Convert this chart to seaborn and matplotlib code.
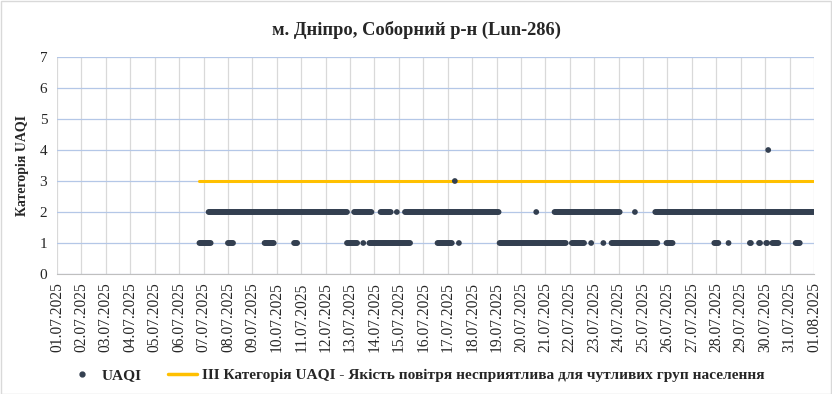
import numpy as np
import pandas as pd
import matplotlib
matplotlib.use('Agg')
import matplotlib.pyplot as plt
import matplotlib.dates as mdates
from matplotlib.lines import Line2D
from matplotlib.patches import Rectangle
import seaborn as sns

sns.set_style('white')
plt.rcParams['font.family'] = ['Liberation Serif', 'DejaVu Serif']

start = pd.Timestamp('2025-07-01 00:00')

# UAQI runs: first / last hour since 01.07.2025 00:00, category
run_first = [149, 292, 318, 334, 342, 471, 489, 568, 588,
             140, 168, 204, 233, 285, 301, 307, 374, 395, 435, 506, 525,
             537, 545, 599, 646, 660, 681, 690, 697, 703, 726,
             391, 699]
run_last = [285, 309, 328, 334, 434, 471, 553, 568, 744,
            151, 173, 213, 236, 295, 301, 347, 388, 395, 500, 518, 525,
            537, 590, 605, 650, 660, 682, 691, 698, 709, 730,
            391, 699]
run_level = [2, 2, 2, 2, 2, 2, 2, 2, 2,
             1, 1, 1, 1, 1, 1, 1, 1, 1, 1, 1, 1,
             1, 1, 1, 1, 1, 1, 1, 1, 1, 1,
             3, 4]

# category III threshold line
limit_hours = [140, 744]
limit_level = [3, 3]

days = pd.date_range('2025-07-01', '2025-08-01', freq='D')

rows = []
for a, b, lv in zip(run_first, run_last, run_level):
    for h in range(a, b + 1):
        rows.append((start + pd.Timedelta(hours=h), lv))
df = pd.DataFrame(rows, columns=['time', 'UAQI'])

lim = pd.DataFrame({'time': [start + pd.Timedelta(hours=h) for h in limit_hours],
                    'UAQI': limit_level})

dot_col = '#333F50'
line_col = '#FFC000'

fig = plt.figure(figsize=(8.32, 3.94), dpi=100)
ax = fig.add_axes([57 / 832, 1 - 274 / 394, (814 - 57) / 832, (274 - 57) / 394])

sns.lineplot(data=lim, x='time', y='UAQI', ax=ax, color=line_col, linewidth=2.2, zorder=2)
sns.scatterplot(data=df, x='time', y='UAQI', ax=ax, color=dot_col, s=17,
                edgecolor='none', zorder=3)

ax.set_xlim(days[0], days[-1])
ax.set_ylim(0, 7)
ax.set_yticks(range(0, 8))
ax.xaxis.set_major_locator(mdates.DayLocator())
ax.xaxis.set_major_formatter(mdates.DateFormatter('%d.%m.%Y'))
ax.tick_params(axis='x', rotation=90, labelsize=11.2, length=0, pad=6)
ax.tick_params(axis='y', labelsize=11, length=0, pad=7)

ax.grid(axis='y', color='#B4C7E7', linewidth=0.9)
ax.grid(axis='x', color='#D9D9D9', linewidth=0.9)
ax.set_axisbelow(True)
for side in ['top', 'right', 'left']:
    ax.spines[side].set_visible(False)
ax.spines['bottom'].set_color('#BFBFBF')

ax.set_xlabel('')
ax.set_ylabel('Категорія UAQI', fontsize=10, fontweight='bold', labelpad=8)

fig.text(0.5, 1 - 30 / 394, 'м. Дніпро, Соборний р-н (Lun-286)',
         ha='center', va='center', fontsize=13.3, fontweight='bold')

handles = [Line2D([], [], marker='o', linestyle='none', color=dot_col, markersize=3.5),
           Line2D([], [], color=line_col, linewidth=2.5)]
labels = ['UAQI',
          'III Категорія UAQI - Якість повітря несприятлива для чутливих груп населення']
fig.legend(handles, labels, loc='center', bbox_to_anchor=(0.5, 1 - 375 / 394), ncol=2,
           frameon=False, prop={'weight': 'bold', 'size': 11.1}, handlelength=1.9,
           columnspacing=1.7, handletextpad=0.3)

fig.add_artist(Rectangle((0.001, 0.001), 0.998, 0.997, transform=fig.transFigure,
                         fill=False, edgecolor='#D9D9D9', linewidth=1))

fig.savefig('out.png', dpi=100)
